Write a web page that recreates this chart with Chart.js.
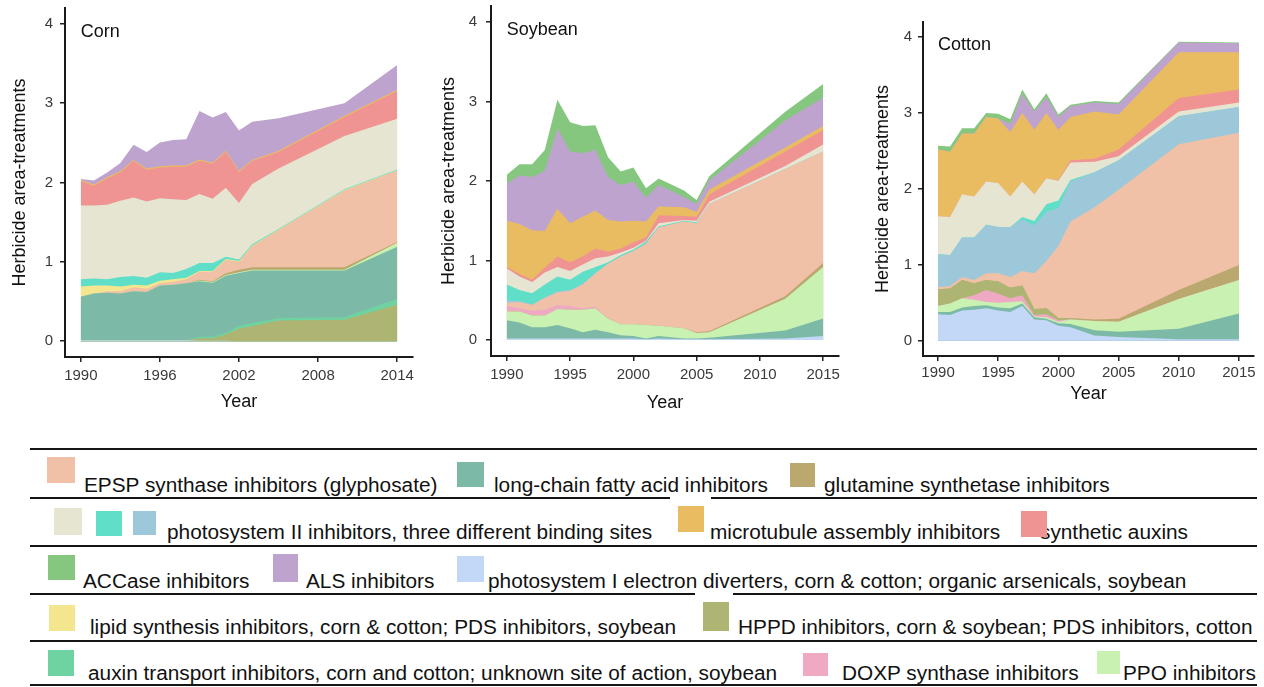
<!DOCTYPE html>
<html>
<head>
<meta charset="utf-8">
<title>Herbicide area-treatments by site of action</title>
<script src="https://cdn.jsdelivr.net/npm/chart.js@4.4.1/dist/chart.umd.min.js"></script>
<style>
  html, body { margin: 0; padding: 0; background: #ffffff; }
  body { width: 1264px; height: 687px; position: relative; overflow: hidden;
         font-family: "Liberation Sans", Arial, sans-serif; }
  canvas { position: absolute; top: 0; }
  .rule { position: absolute; height: 2px; background: #151515; }
  .gap { position: absolute; height: 4px; background: #ffffff; }
  .sw { position: absolute; }
  .lab { position: absolute; font-size: 20px; line-height: 20px; color: #111111;
         white-space: nowrap; transform: scaleX(1.04); transform-origin: 0 0; }
</style>
</head>
<body>
<canvas id="corn" width="430" height="420" style="left:0px"></canvas>
<canvas id="soybean" width="420" height="420" style="left:430px"></canvas>
<canvas id="cotton" width="404" height="420" style="left:860px"></canvas>
<div id="legend"></div>

<script>
// ---------- series (herbicide site-of-action groups) ----------
const seriesLabel = {
  epsp:   "EPSP synthase inhibitors (glyphosate)",
  lcfa:   "long-chain fatty acid inhibitors",
  glut:   "glutamine synthetase inhibitors",
  ps2a:   "photosystem II inhibitors, three different binding sites",
  ps2b:   "photosystem II inhibitors, three different binding sites",
  ps2c:   "photosystem II inhibitors, three different binding sites",
  mt:     "microtubule assembly inhibitors",
  auxin:  "synthetic auxins",
  accase: "ACCase inhibitors",
  als:    "ALS inhibitors",
  ps1:    "photosystem I electron diverters, corn & cotton; organic arsenicals, soybean",
  lipid:  "lipid synthesis inhibitors, corn & cotton; PDS inhibitors, soybean",
  hppd:   "HPPD inhibitors, corn & soybean; PDS inhibitors, cotton",
  auxtr:  "auxin transport inhibitors, corn and cotton; unknown site of action, soybean",
  doxp:   "DOXP synthase inhibitors",
  ppo:    "PPO inhibitors"
};
const seriesColor = {
  epsp: "#F1C1A7", lcfa: "#7CBAA7", glut: "#BBA86E",
  ps2a: "#E5E5D1", ps2b: "#5FDFC7", ps2c: "#9DC8DA",
  mt: "#EABC62", auxin: "#F09393", accase: "#86C77F", als: "#BEA3CF",
  ps1: "#C3D7F7", lipid: "#F4E68F", hppd: "#AEB573", auxtr: "#6FD3A1",
  doxp: "#F0A9C3", ppo: "#C9F1B1"
};

// ---------- Corn: area-treatments per layer ----------
const cornYears = [1990,1991,1992,1993,1994,1995,1996,1997,1998,1999,2000,2001,2002,2003,2005,2010,2014];
const cornPs1   = [0.01,0.01,0.01,0.01,0.01,0.01,0.01,0.01,0.01,0.005,0.005,0.005,0,0,0,0,0];
const cornHppd  = [0,0,0,0,0,0,0,0,0,0.03,0.03,0.08,0.16,0.19,0.26,0.27,0.46];
const cornAuxTr = [0,0,0,0,0,0,0,0,0,0.02,0.02,0.02,0.03,0.04,0.03,0.03,0.07];
const cornLcfa  = [0.55,0.59,0.60,0.59,0.62,0.61,0.69,0.70,0.72,0.70,0.68,0.72,0.67,0.66,0.60,0.59,0.66];
const cornPpo   = [0,0,0,0,0,0,0,0,0,0.01,0.01,0.01,0.01,0.01,0.01,0.01,0.05];
const cornGlut  = [0,0,0,0,0,0,0,0,0,0.01,0.01,0.02,0.03,0.03,0.03,0.03,0.01];
const cornEpsp  = [0,0,0.02,0.03,0.05,0.04,0.03,0.04,0.05,0.10,0.12,0.17,0.10,0.27,0.47,0.97,0.90];
const cornLipid = [0.13,0.10,0.07,0.06,0.03,0.04,0.03,0.03,0.02,0.01,0.01,0.01,0.01,0.005,0.005,0.005,0.005];
const cornPs2b  = [0.09,0.09,0.08,0.12,0.11,0.10,0.11,0.08,0.11,0.10,0.10,0.03,0.02,0.015,0.01,0.01,0.01];
const cornPs2a  = [0.93,0.92,0.94,0.96,0.99,0.96,0.93,0.93,0.87,0.87,0.81,0.87,0.71,0.76,0.76,0.67,0.64];
const cornAuxin = [0.31,0.25,0.33,0.36,0.46,0.40,0.39,0.41,0.42,0.42,0.44,0.45,0.39,0.29,0.21,0.24,0.35];
const cornMt    = [0.015,0.015,0.015,0.015,0.015,0.015,0.015,0.015,0.015,0.015,0.015,0.015,0.015,0.015,0.015,0.015,0.015];
const cornAls   = [0.01,0.05,0.06,0.10,0.19,0.21,0.30,0.32,0.33,0.61,0.57,0.49,0.51,0.48,0.41,0.16,0.31];

// ---------- Soybean ----------
const soyYears  = [1990,1991,1992,1993,1994,1995,1996,1997,1998,1999,2000,2001,2002,2004,2005,2006,2012,2015];
const soyPs1    = [0.02,0.02,0.02,0.02,0.02,0.02,0.02,0.02,0.02,0.02,0.02,0.01,0.02,0.01,0.01,0.01,0.02,0.05];
const soyLcfa   = [0.23,0.20,0.14,0.14,0.17,0.13,0.08,0.11,0.08,0.04,0.03,0.01,0.03,0.01,0.01,0.02,0.10,0.22];
const soyPpo    = [0.11,0.14,0.15,0.15,0.20,0.23,0.28,0.27,0.17,0.14,0.15,0.17,0.13,0.13,0.07,0.07,0.40,0.65];
const soyGlut   = [0,0,0,0,0,0,0,0,0,0,0,0,0,0,0.01,0.01,0.03,0.05];
const soyDoxp   = [0.07,0.04,0.06,0.07,0.05,0.05,0.02,0.02,0.01,0,0,0,0,0,0,0,0,0];
const soyEpsp   = [0.04,0.08,0.07,0.15,0.16,0.19,0.30,0.42,0.68,0.85,0.92,1.02,1.24,1.34,1.37,1.60,1.60,1.40];
const soyPs2c   = [0.03,0.01,0.01,0.01,0.01,0.01,0.01,0,0,0,0,0,0,0,0,0,0,0];
const soyPs2b   = [0.20,0.14,0.14,0.16,0.19,0.13,0.15,0.08,0.02,0.02,0.02,0.03,0.01,0.01,0.01,0,0,0];
const soyPs2a   = [0.20,0.17,0.14,0.15,0.12,0.11,0.09,0.11,0.07,0.03,0.02,0.01,0.04,0.01,0.02,0.03,0.04,0.09];
const soyAuxin  = [0.02,0.03,0.03,0.06,0.13,0.11,0.10,0.12,0.06,0.05,0.07,0.04,0.10,0.05,0.05,0.09,0.18,0.18];
const soyMt     = [0.58,0.63,0.62,0.46,0.60,0.49,0.50,0.48,0.40,0.34,0.27,0.20,0.11,0.11,0.06,0.06,0.05,0.05];
const soyAls    = [0.47,0.61,0.67,0.76,1.01,0.90,0.80,0.76,0.54,0.46,0.49,0.30,0.27,0.13,0.10,0.12,0.34,0.36];
const soyAccase = [0.11,0.14,0.16,0.26,0.36,0.37,0.34,0.31,0.25,0.17,0.18,0.12,0.08,0.08,0.05,0.05,0.11,0.17];

// ---------- Cotton ----------
const cotYears  = [1990,1991,1992,1993,1994,1995,1996,1997,1998,1999,2000,2001,2003,2005,2010,2015];
const cotPs1    = [0.35,0.34,0.40,0.41,0.43,0.40,0.38,0.46,0.28,0.27,0.20,0.18,0.07,0.05,0.02,0.02];
const cotLcfa   = [0.03,0.04,0.04,0.05,0.04,0.04,0.05,0.03,0.03,0.02,0.03,0.04,0.07,0.07,0.14,0.34];
const cotPpo    = [0.08,0.11,0.12,0.08,0.04,0.06,0.08,0.03,0.01,0.02,0.02,0.06,0.12,0.13,0.39,0.44];
const cotDoxp   = [0,0,0,0.06,0.16,0.12,0.05,0.08,0.02,0.04,0.02,0,0,0,0,0];
const cotHppd   = [0.22,0.20,0.24,0.16,0.13,0.16,0.14,0.13,0.08,0.08,0.03,0.02,0,0,0,0];
const cotGlut   = [0,0,0,0,0,0,0,0,0,0,0,0,0.02,0.04,0.12,0.20];
const cotEpsp   = [0.03,0.03,0.04,0.04,0.09,0.11,0.14,0.19,0.47,0.62,0.95,1.27,1.48,1.70,1.92,1.74];
const cotPs2c   = [0.43,0.41,0.52,0.56,0.64,0.61,0.66,0.68,0.63,0.65,0.50,0.53,0.46,0.39,0.37,0.34];
const cotPs2b   = [0,0,0,0,0,0,0,0.03,0.06,0.10,0.10,0.02,0,0,0,0];
const cotPs2a   = [0.50,0.50,0.57,0.54,0.57,0.58,0.40,0.47,0.35,0.34,0.26,0.23,0.14,0.05,0.06,0.06];
const cotAuxin  = [0,0,0,0,0,0,0,0,0,0,0.01,0.03,0.04,0.09,0.18,0.17];
const cotMt     = [0.88,0.86,0.80,0.83,0.85,0.85,0.85,0.90,0.85,0.86,0.66,0.57,0.62,0.46,0.60,0.49];
const cotAls    = [0,0,0,0,0,0,0.11,0.25,0.24,0.21,0.17,0.14,0.12,0.14,0.13,0.12];
const cotAccase = [0.05,0.07,0.07,0.07,0.05,0.06,0.06,0.06,0.03,0.05,0.03,0.02,0.02,0.02,0.01,0.01];

// ---------- axis ticks ----------
const yTicks = [0, 1, 2, 3, 4];
const cornXTicks = [1990, 1996, 2002, 2008, 2014];
const fiveYearTicks = [1990, 1995, 2000, 2005, 2010, 2015];

// ---------- panels (stack order is bottom -> top) ----------
const panels = [
  { id: "corn", title: "Corn", years: cornYears, xTicks: cornXTicks, xMin: 1988.8, xMax: 2015.2,
    layers: [["ps1", cornPs1], ["hppd", cornHppd], ["auxtr", cornAuxTr], ["lcfa", cornLcfa],
             ["ppo", cornPpo], ["glut", cornGlut], ["epsp", cornEpsp], ["lipid", cornLipid],
             ["ps2b", cornPs2b], ["ps2a", cornPs2a], ["auxin", cornAuxin], ["mt", cornMt], ["als", cornAls]],
    box: { top: 8, right: 17, bottom: 3, yW: 65, xH: 60, yTitlePad: 9, yTickPad: 7, xTickPad: 5 } },
  { id: "soybean", title: "Soybean", years: soyYears, xTicks: fiveYearTicks, xMin: 1988.75, xMax: 2016.25,
    layers: [["ps1", soyPs1], ["lcfa", soyLcfa], ["ppo", soyPpo], ["glut", soyGlut], ["doxp", soyDoxp],
             ["epsp", soyEpsp], ["ps2c", soyPs2c], ["ps2b", soyPs2b], ["ps2a", soyPs2a],
             ["auxin", soyAuxin], ["mt", soyMt], ["als", soyAls], ["accase", soyAccase]],
    box: { top: 6, right: 11, bottom: 2, yW: 61, xH: 62, yTitlePad: 8, yTickPad: 9, xTickPad: 5 } },
  { id: "cotton", title: "Cotton", years: cotYears, xTicks: fiveYearTicks, xMin: 1988.75, xMax: 2016.25,
    layers: [["ps1", cotPs1], ["lcfa", cotLcfa], ["ppo", cotPpo], ["doxp", cotDoxp], ["hppd", cotHppd],
             ["glut", cotGlut], ["epsp", cotEpsp], ["ps2c", cotPs2c], ["ps2b", cotPs2b], ["ps2a", cotPs2a],
             ["auxin", cotAuxin], ["mt", cotMt], ["als", cotAls], ["accase", cotAccase]],
    box: { top: 22, right: 10, bottom: 11, yW: 63, xH: 53, yTitlePad: 12, yTickPad: 6, xTickPad: 3 } }
];

const FONT = '"Liberation Sans", Arial, sans-serif';

// crop name written inside the top-left of each plot
const panelTitle = {
  id: "panelTitle",
  afterDatasetsDraw(chart, args, opts) {
    const { ctx, scales: { x, y } } = chart;
    ctx.save();
    ctx.font = "18px " + FONT;
    ctx.fillStyle = "#111111";
    ctx.textAlign = "left";
    ctx.textBaseline = "middle";
    ctx.fillText(opts.text, x.getPixelForValue(opts.x), y.getPixelForValue(opts.y));
    ctx.restore();
  }
};

function buildPanel(p) {
  // every layer fills down to zero; upper layers are painted first, so the
  // lower ones cover them and the stack shows without seams
  const datasets = p.layers.map(([key, values]) => ({
    label: seriesLabel[key],
    data: p.years.map((yr, i) => ({ x: yr, y: values[i] })),
    backgroundColor: seriesColor[key],
    borderColor: "rgba(0,0,0,0)",
    borderWidth: 0,
    pointRadius: 0,
    pointHoverRadius: 0,
    tension: 0,
    fill: "origin"
  }));
  const b = p.box;
  const axisCommon = {
    grid: { display: true, drawOnChartArea: false, drawTicks: true, tickLength: 5,
            color: "#222222", lineWidth: 1.5 },
    border: { display: true, color: "#1a1a1a", width: 2 }
  };
  new Chart(document.getElementById(p.id), {
    type: "line",
    data: { datasets },
    plugins: [panelTitle],
    options: {
      responsive: false,
      animation: false,
      events: [],
      layout: { autoPadding: false, padding: { left: 0, top: b.top, right: b.right, bottom: b.bottom } },
      plugins: {
        legend: { display: false },
        tooltip: { enabled: false },
        filler: { propagate: false },
        panelTitle: { text: p.title, x: 1990, y: 3.9 }
      },
      scales: {
        x: Object.assign({}, axisCommon, {
          type: "linear",
          min: p.xMin, max: p.xMax,
          afterBuildTicks: s => { s.ticks = p.xTicks.map(v => ({ value: v })); },
          afterFit: s => { s.height = b.xH; s.paddingLeft = 0; s.paddingRight = 0; },
          ticks: { color: "#3a3a3a", font: { family: FONT, size: 15 }, padding: b.xTickPad,
                   maxRotation: 0, autoSkip: false, callback: v => String(v) },
          title: { display: true, text: "Year", color: "#111111",
                   font: { family: FONT, size: 18 }, padding: { top: 0, bottom: 4 } }
        }),
        y: Object.assign({}, axisCommon, {
          type: "linear",
          stacked: true,
          min: -0.2, max: 4.2,
          afterBuildTicks: s => { s.ticks = yTicks.map(v => ({ value: v })); },
          afterFit: s => { s.width = b.yW; s.paddingTop = 0; s.paddingBottom = 0; },
          ticks: { color: "#3a3a3a", font: { family: FONT, size: 15 }, padding: b.yTickPad,
                   callback: v => String(v) },
          title: { display: true, text: "Herbicide area-treatments", color: "#111111",
                   font: { family: FONT, size: 18 }, padding: { top: b.yTitlePad, bottom: 0 } }
        })
      }
    }
  });
}
panels.forEach(buildPanel);

// ---------- legend below the panels ----------
const ruleRows = [449, 498, 546, 594, 641, 685];
const ruleGaps = [[498, 670, 41], [594, 695, 38]];
const legendItems = [
  // key, swatch left, top, width, height, text left, text top, text shown
  ["epsp",   47, 457, 28, 26,   84, 475, true],
  ["lcfa",  457, 462, 27, 25,  494, 475, true],
  ["glut",  790, 463, 25, 24,  824, 475, true],
  ["ps2a",   54, 508, 28, 27,    0,   0, false],
  ["ps2b",   96, 511, 26, 25,    0,   0, false],
  ["ps2c",  133, 511, 23, 24,  167, 522, true],
  ["mt",    678, 506, 26, 26,  710, 522, true],
  ["auxin",1021, 511, 26, 26, 1040, 522, true],
  ["accase", 48, 555, 27, 25,   83, 571, true],
  ["als",   273, 554, 25, 28,  306, 571, true],
  ["ps1",   457, 556, 27, 26,  488, 571, true],
  ["lipid",  49, 605, 26, 26,   90, 617, true],
  ["hppd",  703, 602, 26, 29,  738, 617, true],
  ["auxtr",  48, 650, 26, 26,   88, 663, true],
  ["doxp",  803, 653, 25, 23,  842, 663, true],
  ["ppo",  1097, 651, 23, 23, 1123, 663, true]
];
const legend = document.getElementById("legend");
function addDiv(cls, css, text) {
  const d = document.createElement("div");
  d.className = cls;
  Object.assign(d.style, css);
  if (text) d.textContent = text;
  legend.appendChild(d);
  return d;
}
ruleRows.forEach(y => addDiv("rule", { left: "30px", width: "1227px", top: (y - 1) + "px" }));
ruleGaps.forEach(([y, x, w]) => addDiv("gap", { left: x + "px", width: w + "px", top: (y - 2) + "px" }));
// labels first, swatches on top of them
legendItems.forEach(([key, , , , , tx, ty, show]) => {
  if (show) addDiv("lab", { left: tx + "px", top: ty + "px" }, seriesLabel[key]);
});
legendItems.forEach(([key, sx, sy, sw, sh]) => {
  addDiv("sw", { left: sx + "px", top: sy + "px", width: sw + "px", height: sh + "px",
                 background: seriesColor[key] });
});
</script>
</body>
</html>
